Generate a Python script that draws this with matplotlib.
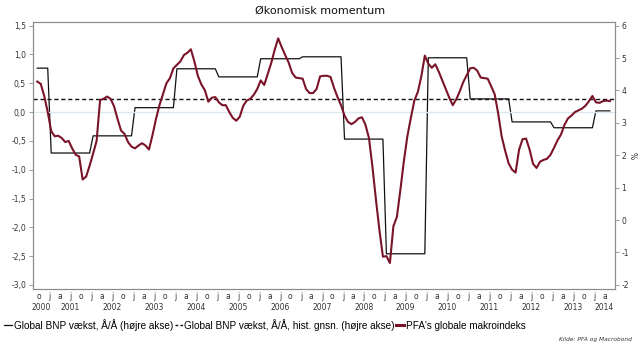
import numpy as np
import matplotlib
matplotlib.use('Agg')
import matplotlib.pyplot as plt
from matplotlib.lines import Line2D
from matplotlib.ticker import FuncFormatter

# PFA's globale makroindeks, monthly Sep 2000 - May 2014 (left axis)
makro = [0.53, 0.49, 0.28, 0.00, -0.33, -0.42, -0.41, -0.45, -0.52, -0.50, -0.63, -0.74, -0.77,
         -1.17, -1.12, -0.93, -0.72, -0.50, 0.21, 0.23, 0.27, 0.23, 0.10, -0.12, -0.32, -0.38,
         -0.52, -0.60, -0.63, -0.58, -0.54, -0.58, -0.65, -0.40, -0.12, 0.12, 0.31, 0.50, 0.59,
         0.76, 0.82, 0.88, 0.99, 1.03, 1.09, 0.88, 0.63, 0.48, 0.38, 0.18, 0.25, 0.26,
         0.17, 0.12, 0.12, 0.00, -0.10, -0.15, -0.08, 0.11, 0.20, 0.23, 0.30, 0.40, 0.55,
         0.47, 0.66, 0.85, 1.08, 1.28, 1.13, 0.99, 0.86, 0.68, 0.60, 0.59, 0.58, 0.40,
         0.33, 0.33, 0.40, 0.62, 0.63, 0.63, 0.61, 0.42, 0.26, 0.12, -0.06, -0.17, -0.21,
         -0.17, -0.11, -0.09, -0.22, -0.45, -0.95, -1.52, -2.05, -2.51, -2.50, -2.62, -1.98, -1.82,
         -1.35, -0.85, -0.42, -0.10, 0.20, 0.35, 0.62, 0.98, 0.84, 0.77, 0.83, 0.70, 0.55,
         0.40, 0.25, 0.12, 0.22, 0.36, 0.52, 0.64, 0.76, 0.77, 0.72, 0.60, 0.59, 0.58,
         0.45, 0.31, -0.02, -0.42, -0.67, -0.89, -1.00, -1.05, -0.65, -0.47, -0.46, -0.65, -0.90,
         -0.97, -0.86, -0.83, -0.81, -0.74, -0.62, -0.49, -0.39, -0.22, -0.11, -0.06, 0.00, 0.03,
         0.06, 0.11, 0.19, 0.28, 0.17, 0.16, 0.19, 0.20, 0.19]

# Global BNP vaekst, A/A per year (right axis)
bnp_years = list(range(2000, 2015))
bnp_vals = [4.69, 2.07, 2.60, 3.47, 4.67, 4.42, 4.98, 5.04, 2.50, -1.04, 5.01, 3.74, 3.03, 2.85, 3.37]
bnp_avg = 3.74

month_labels = ['j', 'a', 'j', 'o']
years = list(range(2000, 2015))

# monthly time axis, mid month, starting Sep 2000
n = len(makro)
t = np.array([2000 + (8 + k + 0.5) / 12 for k in range(n)])
yr_of = np.floor(t).astype(int)
bnp_lookup = dict(zip(bnp_years, bnp_vals))
bnp = np.array([bnp_lookup[y] for y in yr_of])

plt.rcParams['axes.unicode_minus'] = False
fig = plt.figure(figsize=(6.4, 3.47), dpi=100)
ax = fig.add_axes([33 / 640, 1 - 289 / 347, (614.7 - 33) / 640, (289 - 22) / 347])
ax2 = ax.twinx()

xmin, xmax = 2000.607, 2014.49
red = '#7a1428'

ax.axhline(0, color='#dce8f0', lw=1.0, zorder=1)
ax2.plot(t, bnp, color='#111111', lw=0.9, zorder=3)
ax2.axhline(bnp_avg, color='#111111', lw=1.0, ls=(0, (3, 2)), zorder=3)
ax.plot(t, makro, color=red, lw=1.5, zorder=4)
ax.set_zorder(ax2.get_zorder() + 1)
ax.patch.set_visible(False)

ax.set_xlim(xmin, xmax)
ax.set_ylim(-3.071, 1.564)
ax2.set_ylim(-2.127, 6.114)
ax.set_yticks(np.arange(-3.0, 1.51, 0.5))
ax.yaxis.set_major_formatter(FuncFormatter(lambda v, p: f'{v:.1f}'.replace('.', ',')))
ax2.set_yticks(range(-2, 7))

for a in (ax, ax2):
    for s in a.spines.values():
        s.set_color('#8c8c8c')
        s.set_linewidth(0.8)
    a.tick_params(axis='y', labelsize=5.5, colors='#333333', length=3, width=0.6, pad=2)
    a.tick_params(axis='y', color='#8c8c8c')

ax.set_xticks([])
ax2.text(1.03, 0.5, '%', transform=ax.transAxes, fontsize=5.5, rotation=-90,
         ha='center', va='center', color='#333333')

# quarter letters and year labels
for y in years:
    for q, lab in enumerate(month_labels):
        pos = y + q * 0.25
        if xmin <= pos <= xmax:
            ax.text(pos, -0.029, lab, transform=ax.get_xaxis_transform(), fontsize=5.5,
                    ha='center', va='center', color='#333333')
    lo, hi = max(y, xmin), min(y + 1, xmax)
    ax.text((lo + hi) / 2, -0.068, str(y), transform=ax.get_xaxis_transform(), fontsize=5.5,
            ha='center', va='center', color='#333333')

fig.text(0.5, 1 - 11 / 347, 'Økonomisk momentum', ha='center', va='center', fontsize=8,
         color='#111111')

handles = [Line2D([], [], color='#111111', lw=0.9),
           Line2D([], [], color='#111111', lw=1.0, ls=(0, (2, 1.5))),
           Line2D([], [], color=red, lw=2.2)]
labels = ['Global BNP vækst, Å/Å (højre akse)',
          'Global BNP vækst, Å/Å, hist. gnsn. (højre akse)',
          "PFA's globale makroindeks"]
fig.legend(handles, labels, loc='center left', bbox_to_anchor=(0.007, 1 - 325 / 347), ncol=3,
           frameon=False, handlelength=0.8, handletextpad=0.15,
           columnspacing=0.15, borderaxespad=0, borderpad=0,
           prop={'family': 'Liberation Sans', 'size': 7.2})

fig.text(632 / 640, 1 - 340 / 347, 'Kilde: PFA og Macrobond', ha='right', va='center',
         fontsize=4.2, style='italic', color='#333333')

fig.savefig('out.png', dpi=100)
